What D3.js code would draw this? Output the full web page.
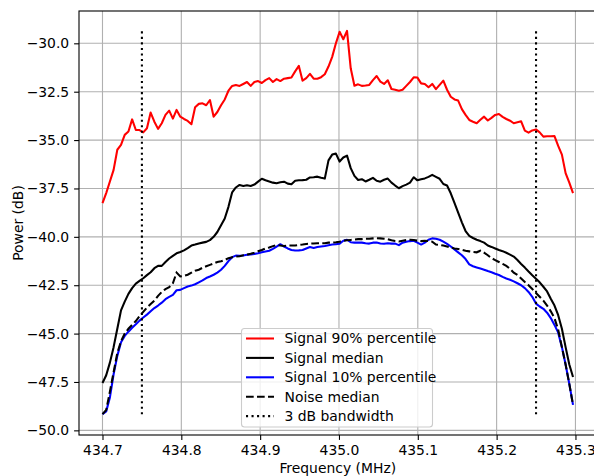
<!DOCTYPE html>
<html><head><meta charset="utf-8">
<script src="https://cdn.jsdelivr.net/npm/d3@7"></script>
<style>
html,body{margin:0;padding:0;background:#fff;}
svg{display:block;font-family:"DejaVu Sans",sans-serif;}
</style></head>
<body><svg id="chart" width="594" height="476"></svg>
<script>
// ---------- data ----------
const freqStart = 434.7;
const freqStep = 0.0047;
const nPoints = 128;
const freq = d3.range(nPoints).map(i => +(freqStart + i * freqStep).toFixed(4));

const signal90 = [
-38.26,-37.74,-37.14,-36.54,-35.5,-35.25,-34.73,-34.56,-33.93,-34.48,
-34.48,-34.6,-34.39,-33.58,-34.05,-34.42,-34.13,-33.7,-33.48,-33.89,
-33.44,-33.79,-33.91,-34.01,-34.18,-33.3,-33.13,-33.1,-33.2,-32.93,
-33.79,-33.55,-33.2,-32.9,-32.45,-32.2,-32.15,-32.2,-32.1,-32.0,
-32.2,-32.0,-31.95,-32.05,-31.9,-31.8,-32.0,-31.85,-31.95,-31.83,
-31.8,-31.77,-31.45,-31.17,-31.93,-31.8,-31.58,-31.83,-31.83,-31.75,
-31.6,-31.2,-30.7,-30.0,-29.4,-29.79,-29.36,-31.29,-32.19,-32.12,
-32.2,-32.18,-32.15,-31.9,-31.69,-31.98,-32.1,-31.91,-32.36,-32.4,
-32.45,-32.4,-32.2,-32.0,-31.76,-31.77,-32.07,-32.1,-32.27,-32.1,
-32.37,-32.15,-31.93,-32.4,-32.76,-32.9,-32.96,-33.4,-33.7,-33.96,
-34.05,-34.13,-33.95,-33.79,-33.99,-33.85,-33.7,-33.65,-33.8,-33.91,
-34.0,-34.13,-34.08,-34.03,-34.51,-34.62,-34.5,-34.45,-34.6,-34.82,
-34.8,-34.8,-34.79,-35.3,-35.75,-36.71,-37.2,-37.74
];
const signalMedian = [
-47.55,-47.15,-46.5,-45.7,-44.75,-43.8,-43.35,-42.95,-42.65,-42.42,
-42.28,-42.14,-41.98,-41.83,-41.62,-41.5,-41.5,-41.3,-41.12,-40.98,
-40.85,-40.78,-40.7,-40.58,-40.45,-40.4,-40.34,-40.3,-40.26,-40.17,
-40.0,-39.75,-39.4,-39.05,-38.45,-37.7,-37.45,-37.32,-37.37,-37.33,
-37.37,-37.3,-37.15,-37.0,-37.08,-37.14,-37.2,-37.23,-37.18,-37.15,
-37.25,-37.28,-37.1,-37.08,-37.07,-37.05,-36.93,-36.92,-36.89,-36.95,
-36.99,-36.05,-35.75,-35.7,-36.11,-35.9,-35.8,-36.45,-36.85,-37.06,
-37.02,-37.14,-37.05,-36.95,-37.1,-37.15,-37.05,-36.99,-37.2,-37.35,
-37.49,-37.38,-37.3,-37.2,-36.92,-37.08,-37.03,-36.98,-36.9,-36.8,
-36.9,-37.0,-37.27,-37.35,-37.75,-38.25,-38.75,-39.25,-39.7,-39.95,
-40.06,-40.15,-40.22,-40.3,-40.45,-40.52,-40.6,-40.68,-40.74,-40.82,
-40.92,-41.02,-41.2,-41.4,-41.59,-41.79,-41.98,-42.16,-42.35,-42.58,
-42.82,-43.2,-43.55,-44.05,-44.75,-45.7,-46.6,-47.24
];
const signal10 = [
-49.16,-49.02,-48.3,-47.1,-46.15,-45.45,-45.12,-44.9,-44.7,-44.52,
-44.33,-44.17,-44.02,-43.85,-43.68,-43.55,-43.4,-43.22,-43.1,-43.0,
-42.76,-42.74,-42.65,-42.57,-42.52,-42.45,-42.35,-42.25,-42.13,-42.05,
-41.96,-41.85,-41.7,-41.5,-41.25,-41.05,-40.97,-40.98,-40.96,-40.93,
-40.91,-40.88,-40.85,-40.8,-40.76,-40.72,-40.62,-40.5,-40.38,-40.5,
-40.6,-40.68,-40.71,-40.7,-40.68,-40.6,-40.53,-40.58,-40.53,-40.5,
-40.47,-40.43,-40.4,-40.38,-40.36,-40.2,-40.15,-40.28,-40.3,-40.29,
-40.3,-40.33,-40.35,-40.3,-40.29,-40.34,-40.36,-40.33,-40.35,-40.35,
-40.43,-40.3,-40.25,-40.22,-40.2,-40.3,-40.4,-40.3,-40.15,-40.08,
-40.1,-40.15,-40.25,-40.36,-40.5,-40.65,-40.8,-40.95,-41.15,-41.42,
-41.52,-41.58,-41.64,-41.7,-41.77,-41.83,-41.91,-41.97,-42.07,-42.15,
-42.22,-42.3,-42.4,-42.5,-42.65,-42.85,-43.1,-43.45,-43.6,-43.72,
-43.92,-44.2,-44.55,-44.95,-45.7,-46.6,-47.6,-48.68
];
const noiseMedian = [
-49.16,-48.95,-48.0,-47.0,-46.0,-45.4,-45.0,-44.75,-44.55,-44.35,
-44.1,-43.88,-43.65,-43.47,-43.3,-43.05,-42.85,-42.7,-42.6,-42.4,
-41.85,-42.05,-42.02,-41.96,-41.85,-41.75,-41.7,-41.6,-41.52,-41.45,
-41.38,-41.3,-41.26,-41.2,-41.1,-41.05,-41.02,-41.0,-40.95,-40.92,
-40.88,-40.82,-40.75,-40.68,-40.6,-40.55,-40.48,-40.42,-40.45,-40.47,
-40.45,-40.45,-40.45,-40.42,-40.4,-40.37,-40.35,-40.34,-40.33,-40.33,
-40.33,-40.3,-40.3,-40.28,-40.25,-40.2,-40.18,-40.16,-40.14,-40.12,
-40.12,-40.1,-40.1,-40.08,-40.07,-40.08,-40.1,-40.12,-40.18,-40.22,
-40.24,-40.2,-40.17,-40.15,-40.16,-40.2,-40.22,-40.2,-40.22,-40.25,
-40.4,-40.42,-40.45,-40.5,-40.55,-40.6,-40.63,-40.67,-40.72,-40.75,
-40.78,-40.8,-40.72,-40.82,-40.95,-41.1,-41.2,-41.3,-41.4,-41.5,
-41.65,-41.85,-41.97,-42.15,-42.33,-42.5,-42.7,-42.9,-43.1,-43.3,
-43.55,-43.85,-44.2,-44.8,-45.7,-46.6,-47.6,-48.68
];
const bandwidthEdges = [434.75, 435.25];
const bandwidthSpan = [-49.17, -29.33];

const xTicks = [434.7, 434.8, 434.9, 435.0, 435.1, 435.2, 435.3];
const yTicks = [-30.0, -32.5, -35.0, -37.5, -40.0, -42.5, -45.0, -47.5, -50.0];

const seriesNames = ["Signal 90% percentile", "Signal median", "Signal 10% percentile", "Noise median", "3 dB bandwidth"];
const xLabel = "Frequency (MHz)";
const yLabel = "Power (dB)";

// ---------- layout ----------
const svg = d3.select("#chart");
const pL = 79, pR = 596.5, pT = 11, pB = 435;
const x = d3.scaleLinear().domain([434.6702, 435.3267]).range([pL, pR]);
const y = d3.scaleLinear().domain([-50.24, -28.33]).range([pB, pT]);
const fmt = v => d3.format(".1f")(v).replace("-", "\u2212");

// grid
const g = svg.append("g");
g.selectAll(".vg").data(xTicks).enter().append("line")
  .attr("x1", d => x(d)).attr("x2", d => x(d)).attr("y1", pT).attr("y2", pB)
  .attr("stroke", "#b0b0b0").attr("stroke-width", 1.1);
g.selectAll(".hg").data(yTicks).enter().append("line")
  .attr("x1", pL).attr("x2", pR).attr("y1", d => y(d)).attr("y2", d => y(d))
  .attr("stroke", "#b0b0b0").attr("stroke-width", 1.1);

// lines
const line = ys => d3.line().x((d, i) => x(freq[i])).y(d => y(d))(ys);
const plot = svg.append("g");
plot.append("path").attr("d", line(signal90)).attr("fill", "none").attr("stroke", "#ff0000").attr("stroke-width", 2.08).attr("stroke-linejoin", "round");
plot.append("path").attr("d", line(signalMedian)).attr("fill", "none").attr("stroke", "#000").attr("stroke-width", 2.08).attr("stroke-linejoin", "round");
plot.append("path").attr("d", line(signal10)).attr("fill", "none").attr("stroke", "#0000ff").attr("stroke-width", 2.08).attr("stroke-linejoin", "round");
plot.append("path").attr("d", line(noiseMedian)).attr("fill", "none").attr("stroke", "#000").attr("stroke-width", 2.08).attr("stroke-dasharray", "7.7,3.3");
plot.selectAll(".bw").data(bandwidthEdges).enter().append("line")
  .attr("x1", d => x(d)).attr("x2", d => x(d))
  .attr("y1", y(bandwidthSpan[0])).attr("y2", y(bandwidthSpan[1]))
  .attr("stroke", "#000").attr("stroke-width", 2.08).attr("stroke-dasharray", "2.08,3.44");

// axes
const xAxis = d3.axisBottom(x).tickValues(xTicks).tickFormat(d => d3.format(".1f")(d)).tickSize(4.9).tickPadding(4.9);
const yAxis = d3.axisLeft(y).tickValues(yTicks).tickFormat(fmt).tickSize(4.9).tickPadding(4.9);
const xa = svg.append("g").attr("transform", `translate(0,${pB})`).call(xAxis);
const ya = svg.append("g").attr("transform", `translate(${pL},0)`).call(yAxis);
[xa, ya].forEach(a => {
  a.select(".domain").remove();
  a.selectAll(".tick line").attr("stroke", "#000").attr("stroke-width", 1.1);
  a.selectAll(".tick text").attr("fill", "#000").style("font-size", "13.9px").style("font-family", "DejaVu Sans");
});

// spines
svg.append("rect").attr("x", pL).attr("y", pT).attr("width", pR - pL).attr("height", pB - pT)
  .attr("fill", "none").attr("stroke", "#000").attr("stroke-width", 1.1);

// axis labels
svg.append("text").attr("x", (pL + pR) / 2).attr("y", 473).attr("text-anchor", "middle")
  .style("font-size", "13.9px").text(xLabel);
svg.append("text").attr("transform", `translate(23,${(pT + pB) / 2}) rotate(-90)`).attr("text-anchor", "middle")
  .style("font-size", "13.9px").text(yLabel);

// legend
const lg = svg.append("g");
lg.append("rect").attr("x", 241.5).attr("y", 328.5).attr("width", 191).attr("height", 98.5).attr("rx", 3)
  .attr("fill", "#fff").attr("fill-opacity", 0.8).attr("stroke", "#cccccc").attr("stroke-width", 1.1);
const styles = [
  {c: "#ff0000", dash: null}, {c: "#000", dash: null}, {c: "#0000ff", dash: null},
  {c: "#000", dash: "7.7,3.3"}, {c: "#000", dash: "2.08,3.44"}
];
seriesNames.forEach((name, i) => {
  const yy = 338.5 + i * 19.4;
  const l = lg.append("line").attr("x1", 246).attr("x2", 274).attr("y1", yy).attr("y2", yy)
    .attr("stroke", styles[i].c).attr("stroke-width", 2.08);
  if (styles[i].dash) l.attr("stroke-dasharray", styles[i].dash);
  lg.append("text").attr("x", 284.5).attr("y", yy).attr("dy", "0.35em").style("font-size", "13.9px").text(name);
});
</script></body></html>
